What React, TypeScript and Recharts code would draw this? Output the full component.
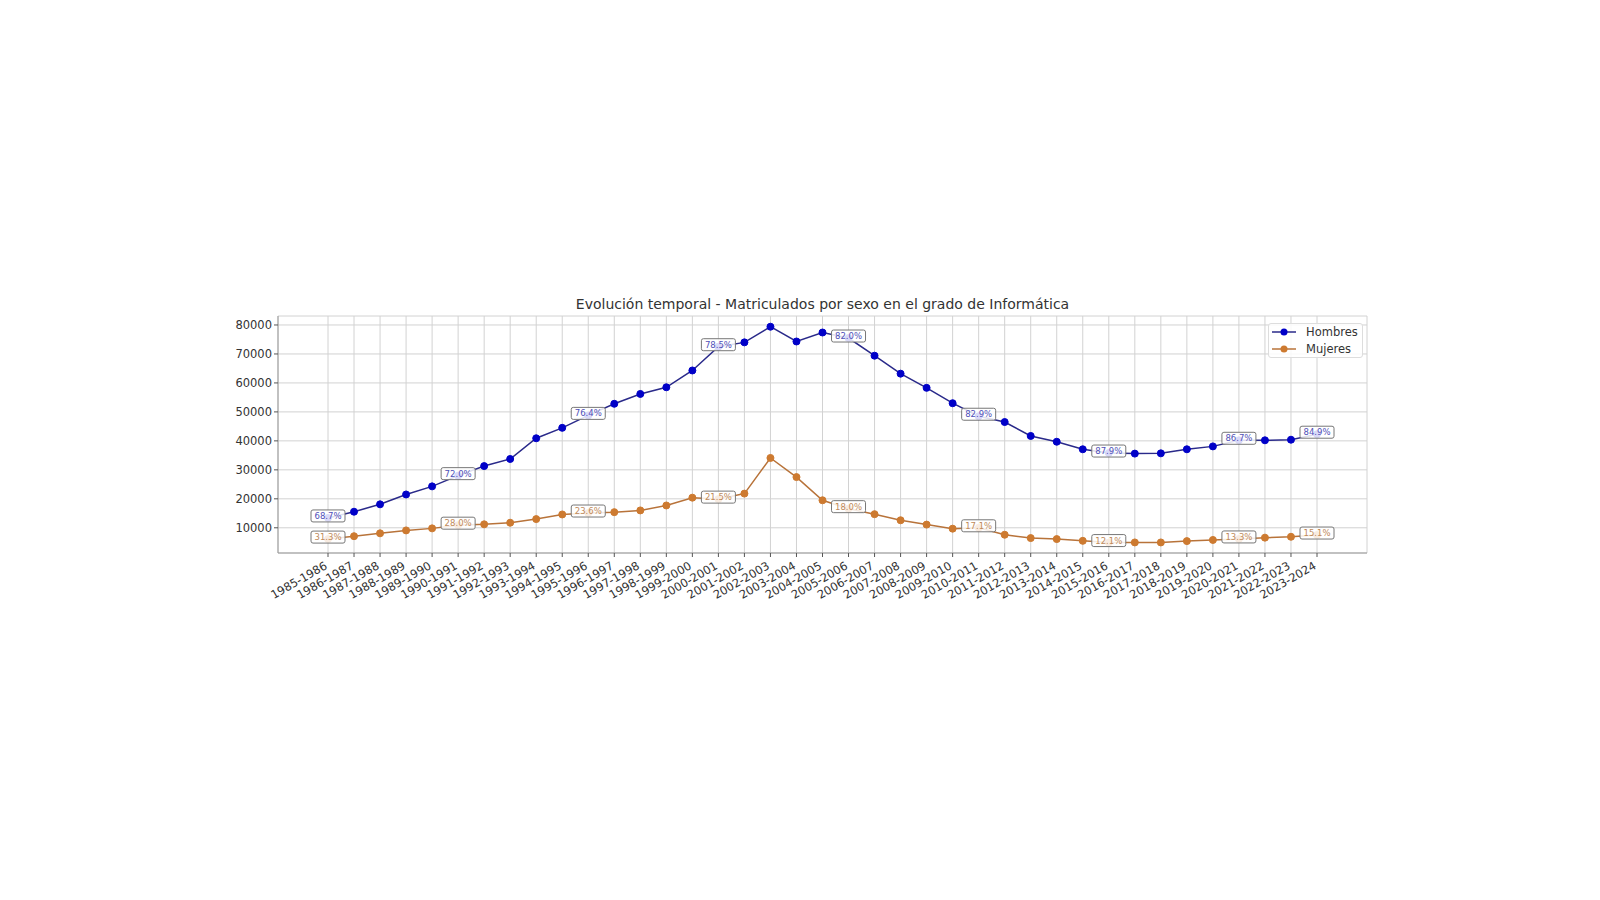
import React from 'react';
import { LineChart, Line, XAxis, YAxis, CartesianGrid, Legend } from 'recharts';

const cursos = [
  '1985-1986', '1986-1987', '1987-1988', '1988-1989', '1989-1990', '1990-1991',
  '1991-1992', '1992-1993', '1993-1994', '1994-1995', '1995-1996', '1996-1997',
  '1997-1998', '1998-1999', '1999-2000', '2000-2001', '2001-2002', '2002-2003',
  '2003-2004', '2004-2005', '2005-2006', '2006-2007', '2007-2008', '2008-2009',
  '2009-2010', '2010-2011', '2011-2012', '2012-2013', '2013-2014', '2014-2015',
  '2015-2016', '2016-2017', '2017-2018', '2018-2019', '2019-2020', '2020-2021',
  '2021-2022', '2022-2023', '2023-2024',
];

const hombres = [
  13400, 15550, 18100, 21500, 24300, 28000, 31300, 33750, 40900, 44500,
  48800, 52800, 56200, 58500, 64300, 72500, 74000, 79400, 74300, 77400,
  75500, 69400, 63200, 58300, 53000, 48500, 46500, 41700, 39700, 37100,
  35800, 35600, 35700, 37100, 38100, 40200, 40200, 40400, 42300,
];

const mujeres = [
  6100, 7100, 8100, 9100, 9800, 10900, 11200, 11750, 13000, 14600,
  15100, 15400, 16000, 17700, 20400, 19900, 21800, 34100, 27500, 19500,
  16600, 14700, 12600, 11100, 9700, 10000, 7600, 6450, 6100, 5500,
  4900, 4950, 4950, 5400, 5800, 6150, 6600, 6900, 7500,
];

// cursos anotados con el porcentaje
const indicesEtiqueta = [0, 5, 10, 15, 20, 25, 30, 35, 38];
const pctHombres = ['68.7%', '72.0%', '76.4%', '78.5%', '82.0%', '82.9%', '87.9%', '86.7%', '84.9%'];
const pctMujeres = ['31.3%', '28.0%', '23.6%', '21.5%', '18.0%', '17.1%', '12.1%', '13.3%', '15.1%'];

const yTicks = [10000, 20000, 30000, 40000, 50000, 60000, 70000, 80000];

const data = cursos.map((curso, i) => ({
  curso,
  Hombres: hombres[i],
  Mujeres: mujeres[i],
}));

const FONT = 'DejaVu Sans, sans-serif';
const AZUL = '#0000c8';
const NARANJA = '#cd7a30';

const XTick = ({ x, y, payload }: any) => (
  <text
    x={x}
    y={y + 9}
    transform={`rotate(-30, ${x}, ${y + 9})`}
    textAnchor="end"
    fontSize={11.5}
    fontFamily={FONT}
    fill="#333"
  >
    {payload.value}
  </text>
);

const makeLabel = (textos: string[], color: string) => (props: any) => {
  const { x, y, index } = props;
  const k = indicesEtiqueta.indexOf(index);
  if (k < 0) return null;
  const w = 34;
  const h = 12;
  return (
    <g key={`lbl-${index}`}>
      <rect
        x={x - w / 2}
        y={y - 2 - h / 2}
        width={w}
        height={h}
        rx={2}
        fill="#fff"
        fillOpacity={0.85}
        stroke="#777"
        strokeWidth={1}
      />
      <text
        x={x}
        y={y - 2}
        dy="0.35em"
        textAnchor="middle"
        fontSize={8.5}
        fontFamily={FONT}
        fill={color}
      >
        {textos[k]}
      </text>
    </g>
  );
};

const LegendBox = () => (
  <div
    style={{
      width: 95,
      height: 35,
      boxSizing: 'border-box',
      border: '1px solid #ddd',
      borderRadius: 3,
      background: 'rgba(255,255,255,0.85)',
      fontFamily: FONT,
      fontSize: 11.5,
      color: '#333',
    }}
  >
    {[
      { name: 'Hombres', line: '#2a2a8a', dot: AZUL },
      { name: 'Mujeres', line: '#b8733a', dot: NARANJA },
    ].map((e, i) => (
      <div key={e.name} style={{ position: 'absolute', left: 4, top: 2 + i * 17, height: 14, display: 'flex', alignItems: 'center' }}>
        <svg width={24} height={14}>
          <line x1={0} y1={7} x2={24} y2={7} stroke={e.line} strokeWidth={1.5} />
          <circle cx={12} cy={7} r={3.5} fill={e.dot} />
        </svg>
        <span style={{ marginLeft: 10 }}>{e.name}</span>
      </div>
    ))}
  </div>
);

const App = () => {
  return (
    <div style={{ position: 'relative', width: 1584, height: 884 }}>
      <div
        style={{
          position: 'absolute',
          left: 270,
          width: 1089,
          top: 288,
          textAlign: 'center',
          fontFamily: FONT,
          fontSize: 14,
          color: '#333',
          lineHeight: '16px',
        }}
      >
        Evolución temporal - Matriculados por sexo en el grado de Informática
      </div>
      <LineChart
        width={1584}
        height={884}
        data={data}
        margin={{ top: 308, right: 225, bottom: 279, left: 210 }}
      >
        <CartesianGrid stroke="#d2d2d2" strokeWidth={1} />
        <XAxis
          dataKey="curso"
          scale="point"
          padding={{ left: 50, right: 50 }}
          interval={0}
          height={60}
          tick={<XTick />}
          tickSize={4}
          tickLine={{ stroke: '#555' }}
          axisLine={{ stroke: '#999' }}
        />
        <XAxis xAxisId="top" dataKey="curso" orientation="top" height={0} tick={false} tickLine={false} axisLine={{ stroke: '#999' }} />
        <YAxis
          type="number"
          domain={[1300, 83100]}
          ticks={yTicks}
          allowDataOverflow
          width={60}
          tickSize={4}
          tickLine={{ stroke: '#555' }}
          axisLine={{ stroke: '#999' }}
          tick={{ fontSize: 11.5, fontFamily: FONT, fill: '#333' }}
        />
        <YAxis yAxisId="right" orientation="right" width={0} tick={false} tickLine={false} axisLine={{ stroke: '#999' }} domain={[0, 1]} />
        <Legend
          layout="vertical"
          align="center"
          verticalAlign="middle"
          content={<LegendBox />}
          wrapperStyle={{ position: 'absolute', left: 1260, top: 315, width: 95, height: 35 }}
        />
        <Line
          dataKey="Hombres"
          stroke="#2a2a8a"
          strokeWidth={1.5}
          dot={{ r: 3.5, fill: AZUL, stroke: AZUL, strokeWidth: 1 }}
          activeDot={false}
          isAnimationActive={false}
          label={makeLabel(pctHombres, '#5050b8')}
        />
        <Line
          dataKey="Mujeres"
          stroke="#b8733a"
          strokeWidth={1.5}
          dot={{ r: 3.5, fill: NARANJA, stroke: NARANJA, strokeWidth: 1 }}
          activeDot={false}
          isAnimationActive={false}
          label={makeLabel(pctMujeres, '#c08a5a')}
        />
      </LineChart>
    </div>
  );
};

export default App;
